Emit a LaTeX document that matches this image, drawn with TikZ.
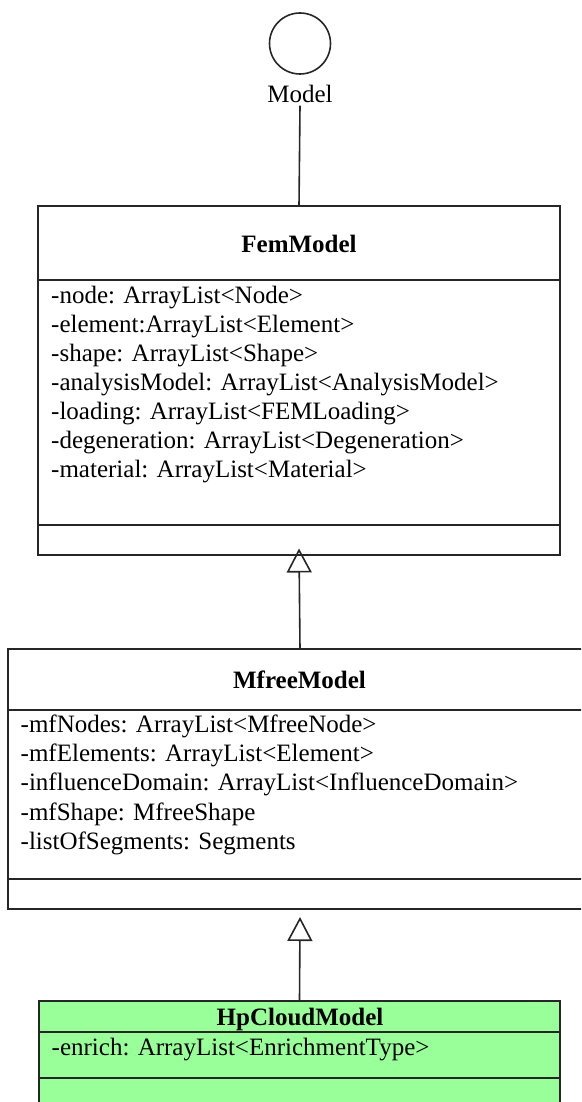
\documentclass[tikz,border=0pt]{standalone}
\usepackage{fontspec}
\setmainfont{Liberation Serif}
\usetikzlibrary{arrows.meta}

\tikzset{
  ink/.style={draw=black!85, line width=1.6pt},
  classbox/.style={ink, rectangle, inner sep=0pt, outer sep=0pt},
  divider/.style={ink},
  title/.style={font=\fontsize{25}{29}\selectfont\bfseries, inner sep=0pt, anchor=base},
  attr/.style={font=\fontsize{25}{29}\selectfont, inner sep=0pt, anchor=base west},
  ifacelabel/.style={font=\fontsize{25}{29}\selectfont, inner sep=0pt, anchor=base},
  realize/.style={ink, -{Triangle[open, width=25pt, length=24pt, line width=1.6pt]}},
  assoc/.style={ink}
}

\begin{document}
\begin{tikzpicture}[x=1pt, y=-1pt]
  \useasboundingbox (0,0) rectangle (581,1102);
  \clip (0,0) rectangle (581,1102);

  % interface lollipop
  \node[ink, circle, minimum size=61pt, inner sep=0pt] (iface) at (300,43.5) {};
  \node[ifacelabel] (ifacename) at (300,102.7) {Model};

  % FemModel
  \node[classbox, minimum width=522pt, minimum height=349pt] (fem) at (299,380.5) {};
  \draw[divider] (fem.west |- 0,280) -- (fem.east |- 0,280);
  \draw[divider] (fem.west |- 0,525) -- (fem.east |- 0,525);
  \node[title] (femtitle) at (299,252) {FemModel};
  \foreach \t [count=\i from 0] in {
      {-node: ArrayList<Node>},
      {-element:ArrayList<Element>},
      {-shape: ArrayList<Shape>},
      {-analysisModel: ArrayList<AnalysisModel>},
      {-loading: ArrayList<FEMLoading>},
      {-degeneration: ArrayList<Degeneration>},
      {-material: ArrayList<Material>}}
    \node[attr] (femattr\i) at (51,303+29*\i) {\t};

  % MfreeModel
  \node[classbox, minimum width=584pt, minimum height=260pt] (mfree) at (300,779) {};
  \draw[divider] (mfree.west |- 0,710) -- (mfree.east |- 0,710);
  \draw[divider] (mfree.west |- 0,879) -- (mfree.east |- 0,879);
  \node[title] (mfreetitle) at (299.5,688) {MfreeModel};
  \foreach \t [count=\i from 0] in {
      {-mfNodes: ArrayList<MfreeNode>},
      {-mfElements: ArrayList<Element>},
      {-influenceDomain: ArrayList<InfluenceDomain>},
      {-mfShape: MfreeShape},
      {-listOfSegments: Segments}}
    \node[attr] (mfreeattr\i) at (20.5,732.5+29.2*\i) {\t};

  % HpCloudModel
  \definecolor{hpgreen}{RGB}{153,255,153}
  \node[classbox, fill=hpgreen, minimum width=521pt, minimum height=107pt] (hp) at (299.5,1054.5) {};
  \draw[divider] (hp.west |- 0,1032) -- (hp.east |- 0,1032);
  \draw[divider] (hp.west |- 0,1078) -- (hp.east |- 0,1078);
  \node[title] (hptitle) at (300,1025) {HpCloudModel};
  \node[attr] (hpattr0) at (51.5,1055) {-enrich: ArrayList<EnrichmentType>};

  % connectors
  \draw[assoc] ([yshift=-2.5pt]ifacename.south) -- (fem.north);
  \draw[realize] (mfree.north) -- ([yshift=6.5pt]fem.south);
  \draw[realize] (hp.north) -- ([yshift=-8pt]mfree.south);
\end{tikzpicture}
\end{document}
